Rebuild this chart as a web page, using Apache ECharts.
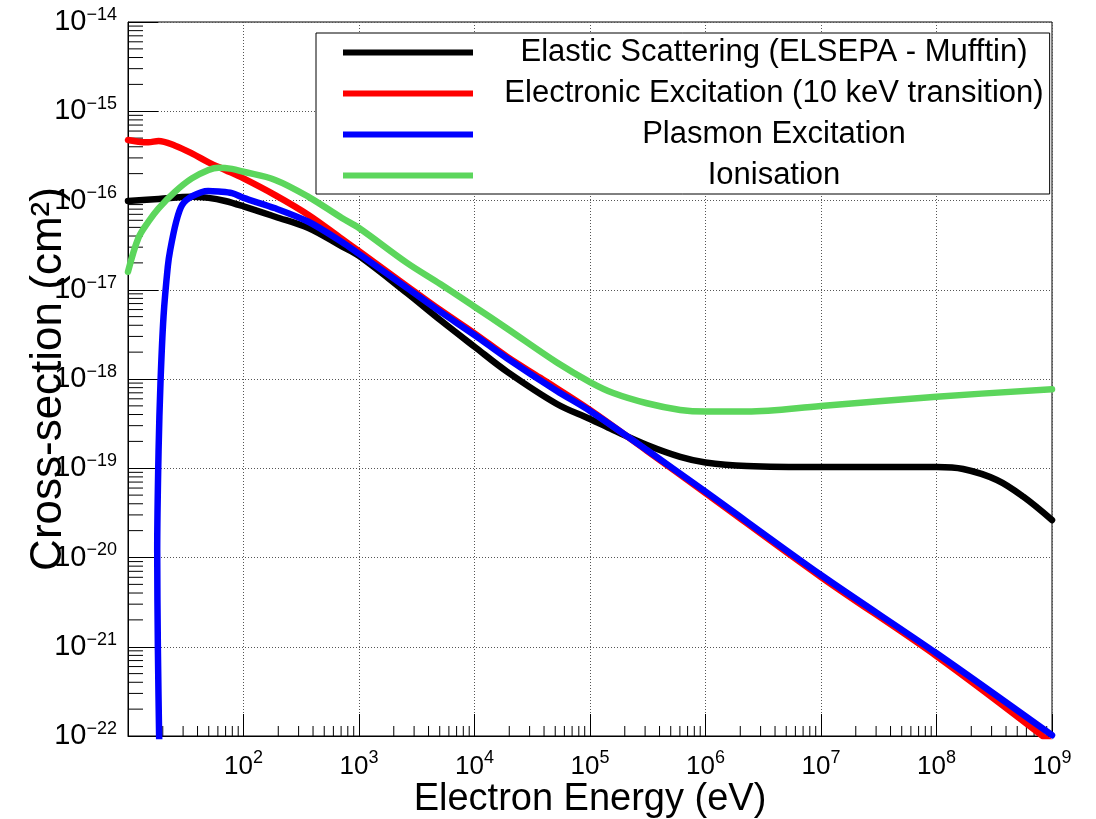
<!DOCTYPE html>
<html>
<head>
<meta charset="utf-8">
<script src="https://cdn.jsdelivr.net/npm/echarts@6/dist/echarts.min.js"></script>
<style>
html,body{margin:0;padding:0;background:#fff;}
#chart{width:1096px;height:819px;}
</style>
</head>
<body>
<div id="chart"></div>
<script>
// ---- Data; energies in eV, cross-sections in cm^2 ----
const seriesNames = [
  'Elastic Scattering (ELSEPA - Mufftin)',
  'Electronic Excitation (10 keV transition)',
  'Plasmon Excitation',
  'Ionisation'
];

const energyElastic = [10, 18.4, 35.7, 49.8, 69.5, 100, 188, 365, 711, 1000, 2600, 5050, 10000, 19100, 51700, 1e5, 1.59e5, 3.11e5, 6.04e5, 1e6, 2.28e6, 1e7, 1e8, 1.7e8, 3.33e8, 5.64e8, 1e9];
const sigmaElastic  = [9.87e-17, 1.04e-16, 1.10e-16, 1.07e-16, 9.87e-17, 8.6e-17, 6.58e-17, 4.92e-17, 3.06e-17, 2.39e-17, 9.2e-18, 4.58e-18, 2.30e-18, 1.21e-18, 5.25e-19, 3.56e-19, 2.68e-19, 1.82e-19, 1.34e-19, 1.16e-19, 1.06e-19, 1.03e-19, 1.03e-19, 9.8e-20, 7.39e-20, 4.8e-20, 2.63e-20];

const energyElectronic = [10, 12.3, 15, 18.4, 25.6, 35.7, 49.8, 69.5, 100, 188, 365, 711, 1000, 2600, 5050, 10000, 19100, 37100, 1e5, 3.11e5, 1e6, 1e7, 1e8, 1e9];
const sigmaElectronic  = [4.76e-16, 4.56e-16, 4.49e-16, 4.65e-16, 4.11e-16, 3.38e-16, 2.68e-16, 2.20e-16, 1.77e-16, 1.15e-16, 6.89e-17, 3.71e-17, 2.70e-17, 1.10e-17, 5.93e-18, 3.25e-18, 1.78e-18, 1.03e-18, 4.5e-19, 1.57e-19, 5.28e-20, 6.05e-21, 7.87e-22, 8.3e-23];

const energyPlasmon = [18.8, 18.6, 18.15, 17.9, 18.4, 19.1, 20.3, 22.1, 23.2, 26.1, 29.4, 36.0, 49.4, 60.8, 79.4, 100, 188, 365, 711, 1000, 2600, 5050, 10000, 19100, 51700, 1e5, 3.11e5, 1e6, 1e7, 1e8, 1e9];
const sigmaPlasmon  = [5e-23, 1e-22, 9.2e-22, 1.21e-20, 1.60e-19, 8.95e-19, 4.99e-18, 1.81e-17, 2.79e-17, 5.74e-17, 8.91e-17, 1.12e-16, 1.28e-16, 1.26e-16, 1.21e-16, 1.07e-16, 8.18e-17, 5.78e-17, 3.43e-17, 2.52e-17, 1.05e-17, 5.68e-18, 3.11e-18, 1.71e-18, 7.34e-19, 4.38e-19, 1.60e-19, 5.46e-20, 6.37e-21, 8.45e-22, 1.02e-22];

const energyIonisation = [10, 12.3, 15, 18.4, 25.6, 35.7, 49.8, 60.8, 79.4, 100, 188, 365, 711, 1000, 2600, 5050, 10000, 19100, 51700, 1e5, 1.59e5, 3.11e5, 6.04e5, 1e6, 2.28e6, 1e7, 1e8, 1e9];
const sigmaIonisation  = [1.59e-17, 3.80e-17, 5.78e-17, 8.18e-17, 1.26e-16, 1.77e-16, 2.20e-16, 2.33e-16, 2.26e-16, 2.10e-16, 1.70e-16, 1.10e-16, 6.37e-17, 4.92e-17, 2.00e-17, 1.16e-17, 6.46e-18, 3.68e-18, 1.53e-18, 9.25e-19, 6.97e-19, 5.35e-19, 4.50e-19, 4.31e-19, 4.31e-19, 4.98e-19, 6.34e-19, 7.67e-19];

const xRange = [10, 1e9];
const yRange = [1e-22, 1e-14];
const xTitle = 'Electron Energy (eV)';
const yTitle = 'Cross-section (cm\u00B2)';

const minorMultipliers = [2, 3, 4, 5, 6, 7, 8, 9];
const xDecades = [1, 2, 3, 4, 5, 6, 7, 8];
const yDecades = [-22, -21, -20, -19, -18, -17, -16, -15];

// ---- Build ----
// ECharts rounds axis extents to 20 decimals, so values near 1e-22 would collapse to 0.
// The y axis therefore runs in units of 10^yUnitExp cm^2 and the labels add the exponent back.
const yUnitExp = -22;
const toAxisY = s => s * Math.pow(10, -yUnitExp);

const FONT = "'Liberation Sans', Arial, Helvetica, sans-serif";
const zip = (xs, ys) => xs.map((x, i) => [x, toAxisY(ys[i])]);
const colors = ['#000000', '#ff0000', '#0000ff', '#5cd65c'];
const seriesData = [
  zip(energyElastic, sigmaElastic),
  zip(energyElectronic, sigmaElectronic),
  zip(energyPlasmon, sigmaPlasmon),
  zip(energyIonisation, sigmaIonisation)
];
const smoothness = [0.35, 0.35, 0.3, 0.35];

const yMinAxis = toAxisY(yRange[0]);
const yMaxAxis = toAxisY(yRange[1]);

const xMinor = [];
xDecades.forEach(d => minorMultipliers.forEach(m => xMinor.push([m * Math.pow(10, d), yMinAxis])));
const yMinor = [];
yDecades.forEach(d => minorMultipliers.forEach(m => yMinor.push([xRange[0], toAxisY(m * Math.pow(10, d))])));

function powText(e) {
  const s = e < 0 ? '\u2212' + (-e) : String(e);
  return '{b|10}{s|' + s + '}';
}
const powLabelX = v => powText(Math.round(Math.log10(v)));
const powLabelY = v => powText(Math.round(Math.log10(v)) + yUnitExp);

const chart = echarts.init(document.getElementById('chart'), null, {renderer: 'canvas'});

const lineSeries = seriesNames.map((name, i) => ({
  name: name,
  type: 'line',
  data: seriesData[i],
  showSymbol: false,
  symbol: 'none',
  smooth: smoothness[i],
  clip: true,
  z: 3,
  color: colors[i],
  lineStyle: {color: colors[i], width: 6.5, cap: 'round', join: 'round'},
  emphasis: {disabled: true},
  silent: true
}));

const option = {
  animation: false,
  backgroundColor: '#ffffff',
  textStyle: {fontFamily: FONT},
  grid: {
    left: 128, right: 44, top: 22, bottom: 83,
    show: true, borderColor: '#000', borderWidth: 1, backgroundColor: 'transparent',
    containLabel: false, outerBoundsMode: 'none'
  },
  legend: {
    data: seriesNames,
    orient: 'vertical',
    left: 316, top: 33,
    padding: [4, 6, 3, 27],
    itemGap: 10,
    itemWidth: 130,
    itemHeight: 6,
    icon: 'rect',
    backgroundColor: '#ffffff',
    borderColor: '#000',
    borderWidth: 1,
    selectedMode: false,
    formatter: n => '{t|' + n + '}',
    textStyle: {
      color: '#000',
      fontFamily: FONT,
      fontSize: 31,
      rich: {
        t: {fontSize: 31, fontFamily: FONT, color: '#000', width: 530, align: 'center', padding: [0, 0, 0, 31], lineHeight: 30}
      }
    }
  },
  xAxis: {
    type: 'log',
    logBase: 10,
    min: xRange[0], max: xRange[1],
    interval: 1,
    name: xTitle,
    nameLocation: 'middle',
    nameGap: 45,
    nameMoveOverlap: false,
    nameTextStyle: {fontSize: 38, color: '#000', fontFamily: FONT},
    axisLine: {show: true, lineStyle: {color: '#000', width: 1}},
    axisTick: {show: true, inside: true, length: 22, lineStyle: {color: '#000', width: 1}},
    axisLabel: {
      show: true, margin: 13, showMinLabel: false, showMaxLabel: true, hideOverlap: false,
      color: '#000',
      formatter: powLabelX,
      rich: {
        b: {fontSize: 26, fontFamily: FONT, color: '#000', lineHeight: 36},
        s: {fontSize: 18, fontFamily: FONT, color: '#000', verticalAlign: 'top'}
      }
    },
    splitLine: {show: true, lineStyle: {color: '#555', width: 1, type: [1, 2]}},
    minorTick: {show: false},
    minorSplitLine: {show: false}
  },
  yAxis: {
    type: 'log',
    logBase: 10,
    min: yMinAxis, max: yMaxAxis,
    interval: 1,
    name: yTitle,
    nameLocation: 'middle',
    nameGap: 57,
    nameMoveOverlap: false,
    nameTextStyle: {fontSize: 44, color: '#000', fontFamily: FONT},
    axisLine: {show: true, lineStyle: {color: '#000', width: 1}},
    axisTick: {show: true, inside: true, length: 30, lineStyle: {color: '#000', width: 1}},
    axisLabel: {
      show: true, margin: 11, showMinLabel: true, showMaxLabel: true, hideOverlap: false,
      color: '#000',
      formatter: powLabelY,
      rich: {
        b: {fontSize: 29, fontFamily: FONT, color: '#000', lineHeight: 32},
        s: {fontSize: 18, fontFamily: FONT, color: '#000', verticalAlign: 'top'}
      }
    },
    splitLine: {show: true, lineStyle: {color: '#555', width: 1, type: [1, 2]}},
    minorTick: {show: false},
    minorSplitLine: {show: false}
  },
  series: [
    {
      type: 'custom',
      name: 'xMinorTicks',
      data: xMinor,
      silent: true,
      z: 1,
      clip: false,
      renderItem: (params, api) => {
        const p = api.coord([api.value(0), api.value(1)]);
        return {type: 'line', shape: {x1: p[0], y1: p[1], x2: p[0], y2: p[1] - 10}, style: {stroke: '#000', lineWidth: 1}};
      }
    },
    {
      type: 'custom',
      name: 'yMinorTicks',
      data: yMinor,
      silent: true,
      z: 1,
      clip: false,
      renderItem: (params, api) => {
        const p = api.coord([api.value(0), api.value(1)]);
        return {type: 'line', shape: {x1: p[0], y1: p[1], x2: p[0] + 15, y2: p[1]}, style: {stroke: '#000', lineWidth: 1}};
      }
    }
  ].concat(lineSeries)
};

chart.setOption(option);
</script>
</body>
</html>
